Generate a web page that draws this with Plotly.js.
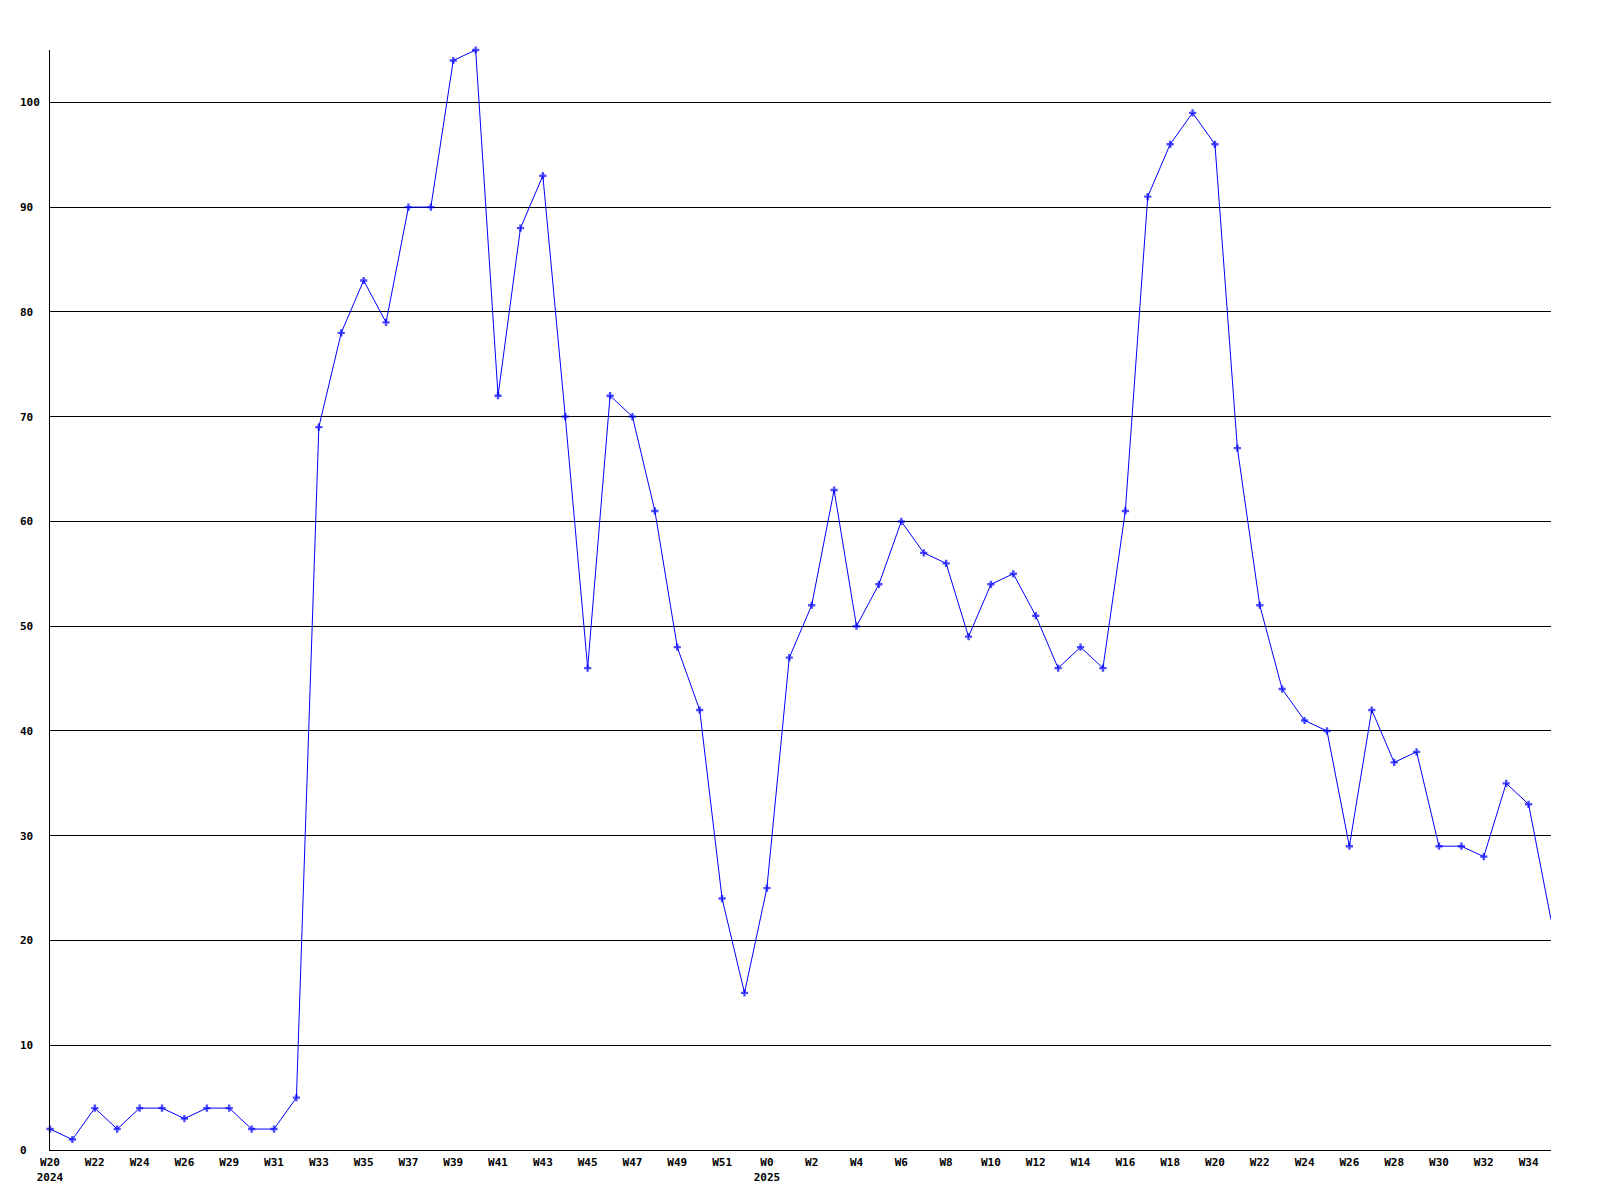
<!DOCTYPE html>
<html>
<head>
<meta charset="utf-8">
<script src="https://cdn.plot.ly/plotly-3.0.1.min.js"></script>
<style>html,body{margin:0;padding:0;background:#fff;}#chart{width:1600px;height:1200px;}</style>
</head>
<body>
<div id="chart"></div>
<script>
const years = [
  "2024","2024","2024","2024","2024","2024","2024","2024","2024","2024",
  "2024","2024","2024","2024","2024","2024","2024","2024","2024","2024",
  "2024","2024","2024","2024","2024","2024","2024","2024","2024","2024",
  "2024","2024",
  "2025","2025","2025","2025","2025","2025","2025","2025","2025","2025",
  "2025","2025","2025","2025","2025","2025","2025","2025","2025","2025",
  "2025","2025","2025","2025","2025","2025","2025","2025","2025","2025",
  "2025","2025","2025","2025","2025","2025"
];
const weeks = [
  "W20","W21","W22","W23","W24","W25","W26","W27","W29","W30",
  "W31","W32","W33","W34","W35","W36","W37","W38","W39","W40",
  "W41","W42","W43","W44","W45","W46","W47","W48","W49","W50",
  "W51","W52",
  "W0","W1","W2","W3","W4","W5","W6","W7","W8","W9",
  "W10","W11","W12","W13","W14","W15","W16","W17","W18","W19",
  "W20","W21","W22","W23","W24","W25","W26","W27","W28","W29",
  "W30","W31","W32","W33","W34","W35"
];
const values = [
  2,1,4,2,4,4,3,4,4,2,
  2,5,69,78,83,79,90,90,104,105,
  72,88,93,70,46,72,70,61,48,42,
  24,15,
  25,47,52,63,50,54,60,57,56,49,
  54,55,51,46,48,46,61,91,96,99,
  96,67,52,44,41,40,29,42,37,38,
  29,29,28,35,33,22
];
const yTicks = [0,10,20,30,40,50,60,70,80,90,100];

const cats = weeks.map((w,i) => years[i] + "-" + w);
const tickvals = [], ticktext = [];
for (let i = 0; i < cats.length - 1; i += 2) {
  tickvals.push(cats[i]);
  const newYear = (i === 0) || (years[i] !== years[i-1]) || (i >= 2 && years[i] !== years[i-2]);
  ticktext.push(newYear ? weeks[i] + "<br>" + years[i] : weeks[i]);
}
const yText = yTicks.map(v => String(v));
const markerSizes = values.map((v,i) => i === values.length - 1 ? 0 : 6);

const font = {family: "DejaVu Sans Mono, monospace", size: 11, color: "#000", weight: "bold"};

Plotly.newPlot("chart", [{
  type: "scatter",
  mode: "lines+markers",
  x: cats,
  y: values,
  line: {color: "#0000ff", width: 1},
  marker: {color: "#0000ff", symbol: "cross", size: markerSizes, line: {width: 0}},
  cliponaxis: false,
  hoverinfo: "x+y"
}], {
  width: 1600,
  height: 1200,
  margin: {l: 50, r: 49, t: 50, b: 50, pad: 0},
  paper_bgcolor: "#fff",
  plot_bgcolor: "#fff",
  showlegend: false,
  font: font,
  xaxis: {
    type: "category",
    categoryorder: "array",
    categoryarray: cats,
    range: [0, cats.length - 1],
    tickmode: "array",
    tickvals: tickvals,
    ticktext: ticktext,
    showgrid: false,
    zeroline: false,
    showline: true,
    linecolor: "#000",
    linewidth: 1,
    ticks: "",
    tickfont: font,
    ticklabelstandoff: 2
  },
  yaxis: {
    range: [0, 105],
    tickmode: "array",
    tickvals: yTicks,
    ticktext: yText,
    showgrid: true,
    gridcolor: "#000",
    gridwidth: 1,
    zeroline: false,
    showline: true,
    linecolor: "#000",
    linewidth: 1,
    ticks: "",
    tickfont: font,
    ticklabelstandoff: 8
  }
}, {staticPlot: true}).then(gd => {
  // left-align y tick labels like the original
  gd.querySelectorAll(".yaxislayer-above .ytick text").forEach(t => {
    t.setAttribute("text-anchor", "start");
    t.setAttribute("x", "28");
  });
});
</script>
</body>
</html>
